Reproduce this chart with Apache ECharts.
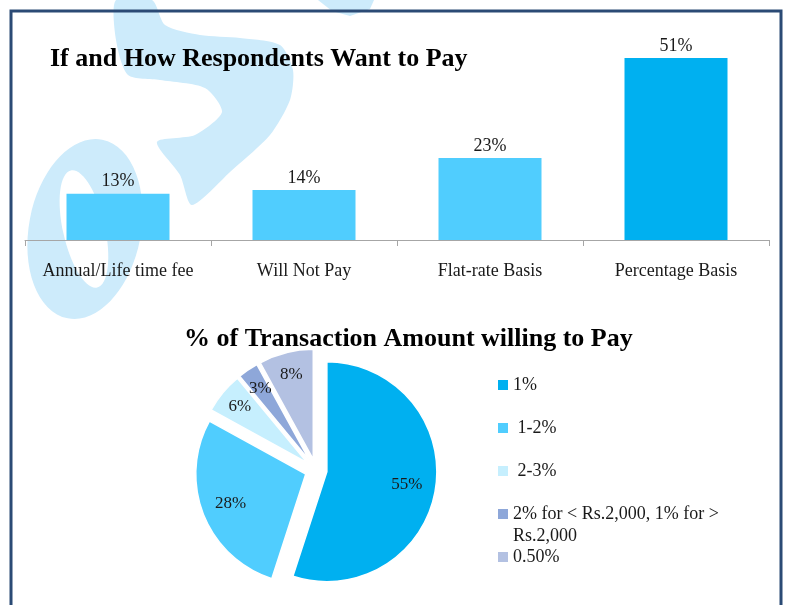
<!DOCTYPE html>
<html>
<head>
<meta charset="utf-8">
<script src="https://cdn.jsdelivr.net/npm/echarts@6/dist/echarts.min.js"></script>
<style>
  html, body { margin: 0; padding: 0; background: #fff; }
  #chart { width: 786px; height: 605px; }
</style>
</head>
<body>
<div id="chart"></div>
<script>
// bar chart data
const payCategories = ["Annual/Life time fee", "Will Not Pay", "Flat-rate Basis", "Percentage Basis"];
const payValues = [13, 14, 23, 51];

// pie chart data
const amountNames = ["1%", " 1-2%", " 2-3%", "2% for < Rs.2,000, 1% for > Rs.2,000", "0.50%"];
const amountValues = [55, 28, 6, 3, 8];

const barColors = ["#50CDFE", "#50CDFE", "#50CDFE", "#00B0F0"];
const pieColors = ["#00B0F0", "#50CDFE", "#C6EFFE", "#8EA7D9", "#B3C1E2"];

const serif = "'Liberation Serif', 'Times New Roman', serif";
const textColor = "#1a1a1a";
const watermark = "#CDEBFB";

const chart = echarts.init(document.getElementById("chart"));

const pieCenter = [316, 470];
const pieOffset = 11;

function pieData(filter) {
  return amountNames.map((name, i) => ({
    name: name,
    value: amountValues[i],
    selected: true,
    label: { show: filter ? filter(amountValues[i]) : false },
  }));
}

// ghost pie used only to place labels further out than the middle radius
function labelPie(radius, filter) {
  return {
    type: "pie",
    center: pieCenter,
    radius: radius,
    startAngle: 90,
    clockwise: true,
    silent: true,
    avoidLabelOverlap: false,
    selectedMode: "multiple",
    selectedOffset: pieOffset,
    itemStyle: { color: "rgba(0,0,0,0)" },
    label: {
      position: "inside",
      formatter: "{c}%",
      fontFamily: serif,
      fontSize: 17,
      color: textColor,
    },
    labelLine: { show: false },
    labelLayout: { hideOverlap: false },
    emphasis: { disabled: true },
    data: pieData(filter),
  };
}

const legendText = { fontFamily: serif, fontSize: 18, color: textColor, lineHeight: 20 };
const legendBase = {
  orient: "vertical",
  left: 498,
  padding: 0,
  itemWidth: 10,
  itemHeight: 10,
  icon: "rect",
  selectedMode: false,
  itemStyle: { borderWidth: 0 },
};

const option = {
  animation: false,
  backgroundColor: "#fff",
  color: pieColors,
  title: [
    {
      text: "If and How Respondents Want to Pay",
      left: 50,
      top: 46,
      padding: 0,
      textStyle: { fontFamily: serif, fontWeight: "bold", fontSize: 26, color: "#000" },
    },
    {
      text: "% of Transaction Amount willing to Pay",
      left: 184,
      top: 326,
      padding: 0,
      textStyle: { fontFamily: serif, fontWeight: "bold", fontSize: 26, color: "#000" },
    },
  ],
  legend: [
    Object.assign({}, legendBase, {
      top: 375,
      itemGap: 23,
      textStyle: legendText,
      data: amountNames.slice(0, 3),
    }),
    Object.assign({}, legendBase, {
      top: 481,
      // empty first line keeps the icon level with the first text line
      formatter: (name) => "\n" + name,
      textStyle: Object.assign({}, legendText, { lineHeight: 22, width: 232, overflow: "break" }),
      data: amountNames.slice(3, 4),
    }),
    Object.assign({}, legendBase, {
      top: 547,
      textStyle: legendText,
      data: amountNames.slice(4),
    }),
  ],
  grid: { left: 25, right: 17, top: 26, bottom: 365 },
  xAxis: {
    type: "category",
    data: payCategories,
    axisLine: { lineStyle: { color: "#A6A6A6", width: 1 } },
    axisTick: { show: true, length: 6, lineStyle: { color: "#A6A6A6" } },
    axisLabel: { margin: 22, fontFamily: serif, fontSize: 18, color: textColor, interval: 0 },
  },
  yAxis: { type: "value", min: 0, max: 60, show: false },
  series: [
    {
      type: "bar",
      barWidth: 103,
      data: payValues.map((v, i) => ({ value: v, itemStyle: { color: barColors[i] } })),
      label: {
        show: true,
        position: "top",
        distance: 3,
        formatter: "{c}%",
        fontFamily: serif,
        fontSize: 18,
        color: textColor,
      },
    },
    {
      type: "pie",
      center: pieCenter,
      radius: [0, 110],
      startAngle: 90,
      clockwise: true,
      selectedMode: "multiple",
      selectedOffset: pieOffset,
      itemStyle: { borderColor: "#fff", borderWidth: 1.5 },
      label: { show: false },
      labelLine: { show: false },
      emphasis: { disabled: true },
      data: pieData(null),
    },
    labelPie([46, 110], (v) => v >= 20),
    labelPie([60, 110], (v) => v < 20),
  ],
  graphic: [
    // background watermark letters
    {
      type: "ellipse",
      z: -10,
      silent: true,
      x: 85,
      y: 229,
      rotation: -0.19,
      shape: { cx: 0, cy: 0, rx: 56, ry: 91 },
      style: { fill: watermark },
    },
    {
      type: "ellipse",
      z: -9,
      silent: true,
      x: 84,
      y: 229,
      rotation: 0.22,
      shape: { cx: 0, cy: 0, rx: 21, ry: 60 },
      style: { fill: "#fff" },
    },
    {
      type: "polygon",
      z: -10,
      silent: true,
      shape: {
        smooth: 0.25,
        points: [
          [116, 0], [152, 0], [165, 25], [200, 35], [240, 38], [280, 45], [293, 70],
          [290, 100], [270, 135], [230, 172], [192, 205], [180, 175], [157, 142],
          [195, 135], [222, 112], [205, 88], [160, 80], [128, 75], [116, 40],
        ],
      },
      style: { fill: watermark },
    },
    {
      type: "polygon",
      z: -10,
      silent: true,
      shape: { points: [[318, 0], [332, 11], [350, 16], [370, 9], [374, 0]] },
      style: { fill: watermark },
    },
    {
      type: "rect",
      z: 100,
      silent: true,
      shape: { x: 11, y: 11, width: 770, height: 700 },
      style: { fill: null, stroke: "#2B4A75", lineWidth: 3 },
    },
  ],
};

chart.setOption(option);
</script>
</body>
</html>
